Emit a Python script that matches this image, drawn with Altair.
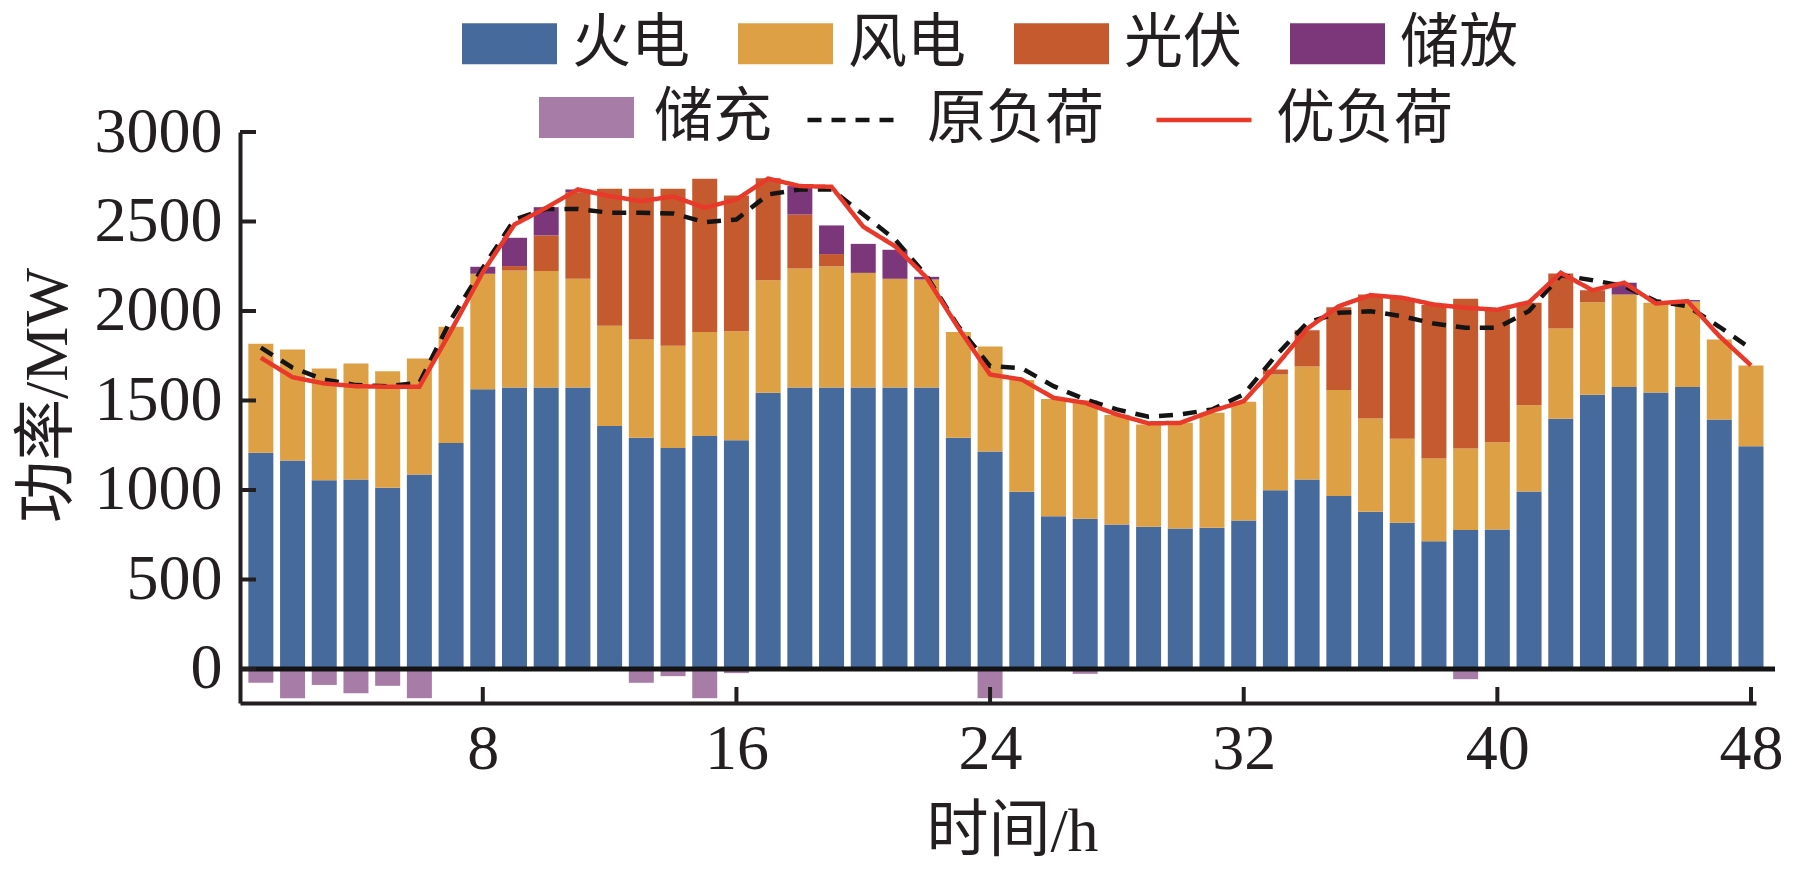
import altair as alt
import pandas as pd

# ---------------- data ----------------
hours = list(range(1, 49))

thermal = [1208, 1165, 1055, 1059, 1012, 1087, 1262, 1563, 1573, 1573, 1573, 1357,
           1292, 1234, 1301, 1278, 1543, 1573, 1573, 1573, 1573, 1573, 1292, 1215,
           990, 854, 839, 807, 794, 785, 789, 830, 999, 1059, 966, 878,
           817, 714, 776, 779, 992, 1398, 1532, 1575, 1545, 1575, 1394, 1245]

wind = [609, 620, 624, 648, 652, 648, 650, 645, 653, 650, 607, 560,
        549, 572, 581, 609, 629, 665, 676, 640, 607, 603, 590, 587,
        624, 655, 663, 612, 572, 590, 642, 663, 646, 631, 592, 522,
        469, 462, 456, 488, 482, 504, 517, 517, 501, 478, 447, 451]

pv = [0, 0, 0, 0, 0, 0, 0, 0, 25, 199, 484, 766,
      842, 877, 857, 758, 569, 301, 69, 0, 0, 0, 0, 0,
      0, 0, 0, 0, 0, 0, 0, 0, 28, 203, 463, 692,
      782, 857, 836, 742, 572, 308, 67, 0, 0, 0, 0, 0]

discharge = [0, 0, 0, 0, 0, 0, 0, 39, 158, 158, 15, 0,
             0, 0, 0, 0, 0, 159, 160, 162, 162, 15, 0, 0,
             0, 0, 0, 0, 0, 0, 0, 0, 0, 0, 0, 0,
             0, 0, 0, 0, 0, 0, 0, 66, 0, 8, 0, 0]

charge = [-77, -163, -89, -135, -94, -163, 0, 0, 0, 0, 0, 0,
          -77, -40, -163, -23, 0, 0, 0, 0, 0, 0, 0, -163,
          0, 0, -27, 0, 0, 0, 0, 0, 0, 0, 0, 0,
          0, 0, -57, 0, 0, 0, 0, 0, 0, 0, 0, 0]

orig_load = [1795, 1683, 1617, 1586, 1580, 1599, 1953, 2241, 2511, 2570, 2570, 2549,
             2549, 2545, 2496, 2511, 2651, 2679, 2679, 2539, 2400, 2195, 1914, 1692,
             1680, 1580, 1506, 1450, 1409, 1422, 1450, 1534, 1748, 1934, 1990, 1999,
             1971, 1930, 1906, 1906, 2000, 2200, 2172, 2139, 2055, 2027, 1912, 1790]

opt_load = [1739, 1630, 1595, 1580, 1577, 1577, 1890, 2217, 2483, 2577, 2679, 2642,
            2614, 2640, 2577, 2623, 2740, 2698, 2694, 2471, 2362, 2186, 1906, 1645,
            1617, 1515, 1487, 1422, 1372, 1375, 1441, 1496, 1690, 1901, 2027, 2089,
            2074, 2036, 2018, 2007, 2049, 2213, 2116, 2158, 2042, 2055, 1860, 1696]

gen_names = ["火电", "风电", "光伏", "储放"]
gen_colors = ["#476a9c", "#dea044", "#c55a2f", "#7b3779"]
charge_name = "储充"
charge_color = "#a77ca7"
load_names = ["原负荷", "优负荷"]
load_colors = ["#141414", "#e8392a"]
load_dashes = [[14, 10], [1, 0]]

y_ticks = [0, 500, 1000, 1500, 2000, 2500, 3000]
x_ticks = [8, 16, 24, 32, 40, 48]

# ---------------- tables ----------------
gen_rows = []
for k, (name, series) in enumerate(zip(gen_names, [thermal, wind, pv, discharge])):
    for h, v in zip(hours, series):
        if v > 0:
            gen_rows.append({"hour": h, "value": v, "series": name, "ord": k})
gen_df = pd.DataFrame(gen_rows)

charge_df = pd.DataFrame([{"hour": h, "value": v, "series": charge_name}
                          for h, v in zip(hours, charge) if v < 0])

load_rows = []
for name, series in zip(load_names, [orig_load, opt_load]):
    for h, v in zip(hours, series):
        load_rows.append({"hour": h, "value": v, "series": name})
load_df = pd.DataFrame(load_rows)

ytick_df = pd.DataFrame({"hour": [1] * len(y_ticks), "value": y_ticks})
xtick_df = pd.DataFrame({"hour": x_ticks, "value": [0] * len(x_ticks)})
zero_df = pd.DataFrame({"hour": [1], "value": [0]})

# ---------------- styling ----------------
W, H = 1516, 571
INK = "#231f20"
FONT = "'Liberation Serif', 'Noto Sans CJK SC'"

xs = alt.Scale(domain=[0.5, 48], nice=False, zero=False)
ys = alt.Scale(domain=[-190, 3000], nice=False, zero=False)

legend_common = dict(
    title=None, orient="none", direction="horizontal", padding=0,
    labelFont=FONT, labelFontSize=59, labelColor=INK, labelLimit=400,
)
rect_symbol = "M-1,-0.43H1V0.43H-1Z"

x_axis = alt.Axis(values=x_ticks, title="时间/h", labelPadding=14, format="d",
                  titleX=772, titleY=128, titleAlign="center", titleBaseline="middle")
y_axis = alt.Axis(values=y_ticks, title="功率/MW", labelPadding=18, format="d",
                  titleX=-193, titleY=263, titleAngle=270,
                  titleAlign="center", titleBaseline="middle")

X = alt.X("hour:Q", scale=xs, axis=x_axis, title="时间/h")
Y = alt.Y("value:Q", scale=ys, axis=y_axis, title="功率/MW")

bars = alt.Chart(gen_df).mark_bar(size=25).encode(
    x=X,
    y=alt.Y("value:Q", scale=ys, stack="zero", axis=y_axis, title="功率/MW"),
    color=alt.Color("series:N", scale=alt.Scale(domain=gen_names, range=gen_colors),
                    legend=alt.Legend(legendX=222, legendY=-136, columns=4,
                                      symbolType=rect_symbol, symbolSize=9025,
                                      symbolStrokeWidth=0, symbolOpacity=1,
                                      labelOffset=15, columnPadding=47,
                                      **legend_common)),
    order=alt.Order("ord:Q", sort="ascending"),
)

charge_bars = alt.Chart(charge_df).mark_bar(size=25).encode(
    x=X, y=Y,
    fill=alt.Fill("series:N", scale=alt.Scale(domain=[charge_name], range=[charge_color]),
                  legend=alt.Legend(legendX=299, legendY=-62,
                                    symbolType=rect_symbol, symbolSize=9025,
                                    symbolStrokeWidth=0, symbolOpacity=1,
                                    labelOffset=20, **legend_common)),
)

line_legend = alt.Legend(legendX=565, legendY=-62, columns=2,
                         symbolType="stroke", symbolSize=9025, symbolStrokeWidth=4.5,
                         labelOffset=22, columnPadding=42, **legend_common)

lines = alt.Chart(load_df).mark_line(strokeWidth=4.5).encode(
    x=X, y=Y,
    stroke=alt.Stroke("series:N", scale=alt.Scale(domain=load_names, range=load_colors),
                      legend=line_legend),
    strokeDash=alt.StrokeDash("series:N", scale=alt.Scale(domain=load_names, range=load_dashes),
                              legend=line_legend),
    order=alt.Order("hour:Q"),
)

zero_line = alt.Chart(zero_df).mark_rule(color="#141414", strokeWidth=5).encode(
    y=Y, x=alt.value(0), x2=alt.value(W + 19),
)

y_tick_marks = alt.Chart(ytick_df).mark_rule(color=INK, strokeWidth=4).encode(
    y=Y, x=alt.value(0), x2=alt.value(16),
)

x_tick_marks = alt.Chart(xtick_df).mark_rule(color=INK, strokeWidth=4).encode(
    x=X, y=alt.value(H), y2=alt.value(H - 16),
)

chart = alt.layer(
    bars, charge_bars, lines, zero_line, y_tick_marks, x_tick_marks
).properties(
    width=W, height=H,
    autosize=alt.AutoSizeParams(type="none"),
    padding={"left": 232, "top": 124, "right": 30, "bottom": 160},
).configure_view(
    stroke=None
).configure_axis(
    grid=False, ticks=False, tickSize=0,
    domainColor=INK, domainWidth=4,
    labelFont="Liberation Serif", labelFontSize=64, labelColor=INK,
    titleFont=FONT, titleFontSize=62, titleFontWeight="normal", titleColor=INK,
)

chart.save("out.html", embed_options={"renderer": "svg", "actions": False})
